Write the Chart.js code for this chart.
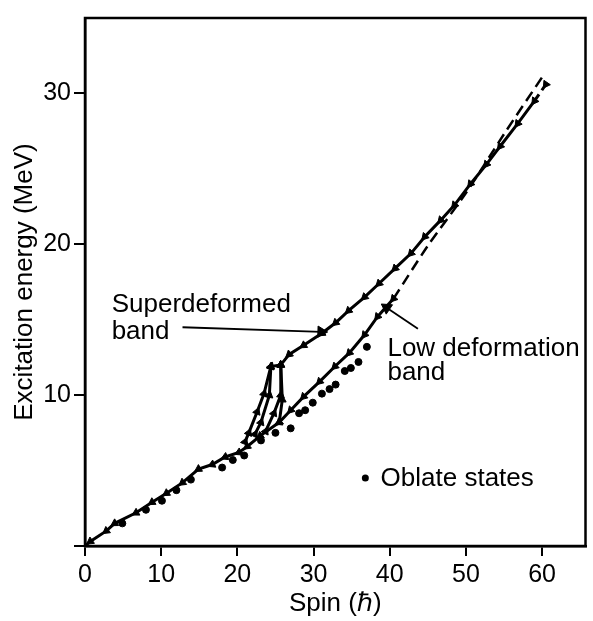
<!DOCTYPE html>
<html>
<head>
<meta charset="utf-8">
<script src="https://cdn.jsdelivr.net/npm/chart.js@4.4.1/dist/chart.umd.min.js"></script>
<style>
  html, body { margin: 0; padding: 0; background: #fff; }
  #wrap { width: 593px; height: 621px; }
</style>
</head>
<body>
<div id="wrap"><canvas id="spinChart"></canvas></div>
<script>
// yrast line running on into the low deformation band
var lowSpin   = [0, 0.7, 2.8, 3.9, 6.7, 8.8, 10.7, 12.8, 14.9, 16.7, 18.4, 20.2, 21.3, 23.0, 25.5, 27.0, 28.7, 30.8, 32.8, 34.7, 36.7, 38.4, 40.5]
var lowEnergy = [0, 0.3, 1.0, 1.5, 2.2, 2.9, 3.5, 4.2, 5.1, 5.4, 5.9, 6.2, 6.6, 7.3, 8.2, 9.0, 9.9, 10.9, 11.9, 12.8, 14.0, 15.2, 16.4]

// superdeformed band
var sdSpin   = [24.4, 25.7, 26.8, 28.7, 31.1, 32.9, 34.6, 36.7, 38.6, 40.7, 42.8, 44.6, 46.7, 48.5, 50.6, 52.7, 54.5, 56.8, 59.0, 60.5]
var sdEnergy = [11.9, 12.0, 12.7, 13.3, 14.1, 14.8, 15.6, 16.5, 17.4, 18.4, 19.4, 20.5, 21.6, 22.6, 24.0, 25.3, 26.5, 28.0, 29.5, 30.6]

// decay links out of the bottom of the SD band
var link1Spin = [24.4, 23.5, 22.6, 21.5, 21.0], link1Energy = [11.9, 10.1, 8.9, 7.5, 6.9]
var link2Spin = [24.4, 24.2, 23.1, 22.3],       link2Energy = [11.9, 10.0, 8.2, 7.4]
var link3Spin = [25.7, 25.7, 24.8, 23.7],       link3Energy = [12.0, 10.0, 8.8, 7.6]
var link4Spin = [25.7, 25.9, 25.5],             link4Energy = [12.0, 9.7, 8.2]

// dashed extrapolation of the low deformation band
var extSpin   = [40.5, 45, 50, 55, 60.3]
var extEnergy = [16.4, 19.9, 23.4, 27.3, 31.3]

// oblate states
var oblSpin   = [4.9, 8.0, 10.1, 12.0, 13.9, 18.0, 19.4, 20.9, 23.1, 25.0, 27.0, 28.1, 28.9, 29.9, 31.1, 32.1, 32.9, 34.1, 34.9, 35.9, 37.0]
var oblEnergy = [1.5, 2.4, 3.0, 3.7, 4.4, 5.2, 5.7, 6.0, 7.0, 7.5, 7.8, 8.8, 9.0, 9.5, 10.1, 10.4, 10.7, 11.6, 11.8, 12.2, 13.2]

// pointer arrows from the labels
var sdArrowSpin  = [12.8, 31.0], sdArrowEnergy  = [14.5, 14.2]
var lowArrowSpin = [43.7, 39.6], lowArrowEnergy = [14.4, 15.8]

var xTicks = [0, 10, 20, 30, 40, 50, 60]
var yTicks = [0, 10, 20, 30]

var notes = [
	{text: 'Superdeformed', x: 3.5, y: 15.5},
	{text: 'band', x: 3.5, y: 13.7},
	{text: 'Low deformation', x: 39.7, y: 12.6},
	{text: 'band', x: 39.7, y: 11.0},
	{text: 'Oblate states', x: 38.8, y: 4.0}
]
var oblateKey = {x: 36.8, y: 4.5}

const FONT = '"Liberation Sans", Arial, Helvetica, sans-serif'

const pts = function(xs, ys){
	return xs.map((x, i) => ({x: x, y: ys[i]}))
}

// direction of a point along its line, in degrees for the triangle marker
const heading = function(ctx, back){
	if (!ctx.dataset || ctx.dataIndex === undefined) return 0
	var d = ctx.dataset.data, i = ctx.dataIndex
	var a = d[Math.max(i - 1, 0)], b = d[Math.min(i + 1, d.length - 1)]
	var sx = ctx.chart.scales.x, sy = ctx.chart.scales.y
	var dx = sx.getPixelForValue(b.x) - sx.getPixelForValue(a.x)
	var dy = sy.getPixelForValue(b.y) - sy.getPixelForValue(a.y)
	if (back) { dx = -dx; dy = -dy }
	return Math.atan2(dx, -dy) * 180 / Math.PI
}

const band = function(xs, ys){
	return {
		data: pts(xs, ys),
		borderColor: '#000',
		backgroundColor: '#000',
		borderWidth: 3,
		pointStyle: 'triangle',
		pointRadius: 4.5,
		pointBorderWidth: 1,
		pointRotation: ctx => heading(ctx, true),
		tension: 0
	}
}

const pointer = function(xs, ys){
	return {
		data: pts(xs, ys),
		borderColor: '#000',
		backgroundColor: '#000',
		borderWidth: 1.8,
		pointStyle: 'triangle',
		pointRadius: ctx => ctx.dataIndex === xs.length - 1 ? 6.5 : 0,
		pointBorderWidth: 1,
		pointRotation: ctx => heading(ctx, false)
	}
}

var sdBand = band(sdSpin, sdEnergy)
sdBand.segment = {borderDash: ctx => ctx.p1DataIndex === sdSpin.length - 1 ? [8, 5] : undefined}

const labelPlugin = {
	id: 'labels',
	afterDatasetsDraw(chart){
		var c = chart.ctx, sx = chart.scales.x, sy = chart.scales.y, a = chart.chartArea
		c.save()
		c.fillStyle = '#000'
		c.font = '26px ' + FONT
		c.textBaseline = 'alphabetic'
		c.textAlign = 'left'
		notes.forEach(n => c.fillText(n.text, sx.getPixelForValue(n.x), sy.getPixelForValue(n.y)))
		c.beginPath()
		c.arc(sx.getPixelForValue(oblateKey.x), sy.getPixelForValue(oblateKey.y), 3.5, 0, Math.PI * 2)
		c.fill()
		c.strokeStyle = '#000'
		c.lineWidth = 2.5
		c.strokeRect(a.left, a.top, a.right - a.left, a.bottom - a.top)
		c.restore()
	}
}

new Chart(document.getElementById('spinChart'), {
	type: 'line',
	data: {
		datasets: [
			band(lowSpin, lowEnergy),
			sdBand,
			band(link1Spin, link1Energy),
			band(link2Spin, link2Energy),
			band(link3Spin, link3Energy),
			band(link4Spin, link4Energy),
			{
				data: pts(extSpin, extEnergy),
				borderColor: '#000',
				borderWidth: 2.5,
				borderDash: [11, 6],
				pointRadius: 0,
				tension: 0.3
			},
			{
				data: pts(oblSpin, oblEnergy),
				showLine: false,
				pointStyle: 'circle',
				pointRadius: 3.5,
				pointBackgroundColor: '#000',
				pointBorderColor: '#000'
			},
			pointer(sdArrowSpin, sdArrowEnergy),
			pointer(lowArrowSpin, lowArrowEnergy)
		]
	},
	options: {
		responsive: true,
		maintainAspectRatio: false,
		animation: false,
		layout: {padding: {top: 7, right: 5, left: 0, bottom: 0}},
		plugins: {legend: {display: false}, tooltip: {enabled: false}},
		scales: {
			x: {
				type: 'linear',
				min: 0,
				max: 65.7,
				afterFit: s => { s.height = 75 },
				afterBuildTicks: s => { s.ticks = xTicks.map(v => ({value: v})) },
				ticks: {color: '#000', font: {family: FONT, size: 25}, padding: 4, maxRotation: 0},
				grid: {drawOnChartArea: false, drawTicks: true, tickLength: 10, color: '#000', lineWidth: 2},
				border: {display: true, color: '#000', width: 2.5},
				title: {display: true, text: 'Spin (\u210F)', color: '#000', font: {family: FONT, size: 26}, padding: {top: 0, bottom: 2}}
			},
			y: {
				type: 'linear',
				min: 0,
				max: 35,
				afterFit: s => { s.width = 85 },
				afterBuildTicks: s => { s.ticks = yTicks.map(v => ({value: v})) },
				ticks: {color: '#000', font: {family: FONT, size: 25}, padding: 3, callback: v => v === 0 ? '' : v},
				grid: {drawOnChartArea: false, drawTicks: true, tickLength: 11, color: '#000', lineWidth: 2},
				border: {display: true, color: '#000', width: 2.5},
				title: {display: true, text: 'Excitation energy (MeV)', color: '#000', font: {family: FONT, size: 26}, padding: {top: 9, bottom: 0}}
			}
		}
	},
	plugins: [labelPlugin]
})
</script>
</body>
</html>
